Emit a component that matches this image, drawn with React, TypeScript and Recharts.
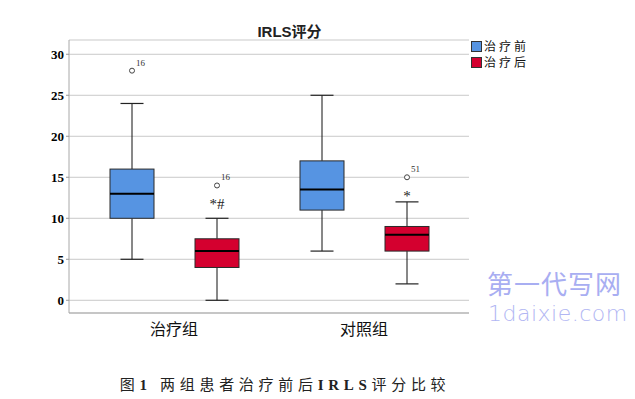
import React from "react";
import { ComposedChart, Bar, XAxis, YAxis, CartesianGrid } from "recharts";

const categories = ["治疗组", "对照组"];
const yTicks = [0, 5, 10, 15, 20, 25, 30];
const legendLabels = ["治疗前", "治疗后"];

// 治疗前
const beforeMin = [5, 6];
const beforeQ1 = [10, 11];
const beforeMedian = [13, 13.5];
const beforeQ3 = [16, 17];
const beforeMax = [24, 25];
const beforeOutlier: (number | null)[] = [28, null];
const beforeOutlierId = ["16", ""];
const beforeMark = ["", ""];

// 治疗后
const afterMin = [0, 2];
const afterQ1 = [4, 6];
const afterMedian = [6, 8];
const afterQ3 = [7.5, 9];
const afterMax = [10, 12];
const afterOutlier: (number | null)[] = [14, 15];
const afterOutlierId = ["16", "51"];
const afterMark = ["*#", "*"];

const BLUE = "#5694e2";
const RED = "#d4002f";

const data = categories.map((name, i) => ({
  name,
  before: {
    min: beforeMin[i], q1: beforeQ1[i], med: beforeMedian[i], q3: beforeQ3[i], max: beforeMax[i],
    out: beforeOutlier[i], outId: beforeOutlierId[i], mark: beforeMark[i],
  },
  after: {
    min: afterMin[i], q1: afterQ1[i], med: afterMedian[i], q3: afterQ3[i], max: afterMax[i],
    out: afterOutlier[i], outId: afterOutlierId[i], mark: afterMark[i],
  },
}));

// range bar from the lowest drawn value to the highest, so the shape can map any value
const range = (s: any) => {
  const lo = Math.min(s.min, s.out ?? s.min);
  const hi = Math.max(s.max, s.out ?? s.max);
  return [lo, hi];
};

const makeBox = (key: "before" | "after", fill: string) => (props: any) => {
  const { x, y, width, height, payload } = props;
  const s = payload[key];
  const [lo, hi] = range(s);
  const top = Math.min(y, y + height);
  const bottom = Math.max(y, y + height);
  const px = (v: number) => bottom - ((v - lo) / (hi - lo)) * (bottom - top);
  const cx = x + width / 2;
  const cap = 11.5;
  return (
    <g>
      <line x1={cx} x2={cx} y1={px(s.max)} y2={px(s.q3)} stroke="#111" strokeWidth={1} />
      <line x1={cx} x2={cx} y1={px(s.q1)} y2={px(s.min)} stroke="#111" strokeWidth={1} />
      <line x1={cx - cap} x2={cx + cap} y1={px(s.max)} y2={px(s.max)} stroke="#222" strokeWidth={1.2} />
      <line x1={cx - cap} x2={cx + cap} y1={px(s.min)} y2={px(s.min)} stroke="#222" strokeWidth={1.2} />
      <rect x={x} y={px(s.q3)} width={width} height={px(s.q1) - px(s.q3)} fill={fill} stroke="#2a2a2a" strokeWidth={1} />
      <line x1={x} x2={x + width} y1={px(s.med)} y2={px(s.med)} stroke="#000" strokeWidth={2} />
      {s.out != null && (
        <g>
          <circle cx={cx} cy={px(s.out)} r={2.5} fill="#fff" stroke="#444" strokeWidth={1} />
          <text x={cx + 4} y={px(s.out) - 5} fontSize={9} fill="#333" fontFamily="Liberation Serif">{s.outId}</text>
          {s.mark && (
            <text x={cx} y={px(s.out) + 24} fontSize={15} fill="#222" textAnchor="middle" fontFamily="Liberation Serif">{s.mark}</text>
          )}
        </g>
      )}
    </g>
  );
};

export default function App() {
  return (
    <div style={{ position: "fixed", left: 0, top: 0, width: 635, height: 399, background: "#fff", overflow: "hidden" }}>
      <div style={{ position: "absolute", left: 0, width: 579, top: 20, textAlign: "center", fontFamily: "'Liberation Sans', 'Noto Sans CJK SC'", fontWeight: 700, fontSize: 15, color: "#222" }}>
        IRLS评分
      </div>
      <ComposedChart
        width={635}
        height={399}
        data={data}
        margin={{ top: 40, right: 166, left: 0, bottom: 56 }}
        barGap={41}
      >
        <CartesianGrid vertical={false} stroke="#c9c9c9" strokeWidth={1} />
        <XAxis
          dataKey="name"
          padding={{ left: 10, right: 10 }}
          height={30}
          tickLine={false}
          axisLine={{ stroke: "#a8a8a8" }}
          tickMargin={5}
          tick={{ fontSize: 16, fill: "#111", fontFamily: "'Noto Sans CJK SC'" }}
        />
        <YAxis
          type="number"
          width={69}
          domain={[-1.55, 31.74]}
          ticks={yTicks}
          allowDataOverflow
          tickSize={3}
          tickLine={{ stroke: "#999" }}
          axisLine={{ stroke: "#a8a8a8" }}
          tick={{ fontSize: 13, fill: "#000", fontWeight: 700, fontFamily: "'Liberation Serif'" }}
        />
        <Bar dataKey={(d: any) => range(d.before)} barSize={44} shape={makeBox("before", BLUE)} isAnimationActive={false} />
        <Bar dataKey={(d: any) => range(d.after)} barSize={44} shape={makeBox("after", RED)} isAnimationActive={false} />
      </ComposedChart>
      <div style={{ position: "absolute", left: 471, top: 38, fontFamily: "'Noto Sans CJK SC'", fontSize: 12, color: "#111" }}>
        {legendLabels.map((label, i) => (
          <div key={label} style={{ display: "flex", alignItems: "center", height: 16, lineHeight: "16px" }}>
            <span style={{ width: 9, height: 9, background: i === 0 ? BLUE : RED, border: "1px solid #333", marginRight: 2, display: "inline-block" }} />
            <span style={{ letterSpacing: 3 }}>{label}</span>
          </div>
        ))}
      </div>
      <div style={{ position: "absolute", left: 487, top: 269, color: "#9aa0f0", fontFamily: "'Noto Sans CJK SC'", fontSize: 26, lineHeight: "28px", letterSpacing: 1, opacity: 0.85 }}>
        第一代写网
      </div>
      <div style={{ position: "absolute", left: 488, top: 303, color: "#a4aaf2", fontFamily: "'DejaVu Sans'", fontWeight: 300, fontSize: 22, lineHeight: "22px", letterSpacing: 0.5, opacity: 0.85 }}>
        1daixie.com
      </div>
      <div style={{ position: "absolute", left: 0, width: 570, top: 373, textAlign: "center", fontFamily: "'Liberation Serif', 'Noto Sans CJK SC'", fontSize: 15, letterSpacing: 4.7, color: "#222" }}>
        图<b>1</b> 两组患者治疗前后<b>IRLS</b>评分比较
      </div>
    </div>
  );
}
